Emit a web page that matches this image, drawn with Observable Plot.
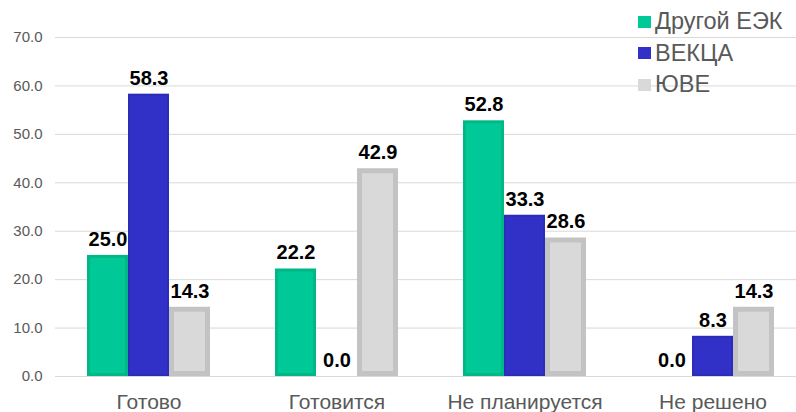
<!DOCTYPE html>
<html>
<head>
<meta charset="utf-8">
<script src="https://cdn.jsdelivr.net/npm/d3@7"></script>
<script src="https://cdn.jsdelivr.net/npm/@observablehq/plot@0.6"></script>
<style>
  html, body { margin: 0; padding: 0; background: #fff; overflow: hidden; }
  #wrap { position: relative; width: 796px; height: 412px; overflow: hidden; font-family: "Liberation Sans", Arial, sans-serif; }
  #wrap > svg { position: absolute; left: 0; top: 0; max-width: none !important; }
  #legend { position: absolute; left: 638px; top: 6px; }
  .row { height: 31.5px; display: flex; align-items: center; font-size: 23.5px; color: #595959; }
  .sw { width: 13px; height: 12px; margin-right: 4px; flex: none; }
</style>
</head>
<body>
<div id="wrap"></div>
<script>
const categories = ["Готово", "Готовится", "Не планируется", "Не решено"];
const series = ["Другой ЕЭК", "ВЕКЦА", "ЮВЕ"];
const valuesOtherEEK = [25.0, 22.2, 52.8, 0.0];
const valuesVEKCA = [58.3, 0.0, 33.3, 8.3];
const valuesYUVE = [14.3, 42.9, 28.6, 14.3];
const fills = ["#00C896", "#3131C8", "#D9D9D9"];
const strokes = ["#00B886", "#2C2CB8", "#C3C3C3"];
const strokeWidths = [3, 2, 5];
const yTicks = [0, 10, 20, 30, 40, 50, 60, 70];

const seriesValues = [valuesOtherEEK, valuesVEKCA, valuesYUVE];
const data = [];
categories.forEach((c, i) => series.forEach((s, j) => data.push({cat: c, series: s, value: seriesValues[j][i]})));

const common = {
  width: 807,
  height: 412,
  marginLeft: 55,
  marginRight: 0,
  marginTop: 37,
  marginBottom: 36,
  style: {fontFamily: "Liberation Sans, Arial, sans-serif", background: "transparent", overflow: "visible", maxWidth: "none"}
};

// Background: continuous gridlines and y axis
const bg = Plot.plot({
  ...common,
  y: {domain: [0, 70], axis: null},
  marks: [
    Plot.gridY(yTicks, {stroke: "#D9D9D9", strokeOpacity: 1, strokeWidth: 1}),
    Plot.axisY(yTicks, {tickSize: 0, tickPadding: 13, tickFormat: d => d.toFixed(1), fontSize: 15, fill: "#595959", label: null})
  ]
});

const barMarks = series.map((s, j) => Plot.barY(
  data.filter(d => d.series === s && d.value > 0),
  {fx: "cat", x: "series", y: "value", fill: fills[j], stroke: strokes[j], strokeWidth: strokeWidths[j], inset: strokeWidths[j] / 2}
));

const fg = Plot.plot({
  ...common,
  fx: {domain: categories, paddingInner: 0.335, paddingOuter: 0.1675, axis: null, label: null},
  x: {domain: series, padding: 0, axis: null},
  y: {domain: [0, 70], axis: null},
  marks: [
    ...barMarks,
    Plot.text(data, {fx: "cat", x: "series", y: "value", text: d => d.value.toFixed(1), dy: -16, fontSize: 20, fontWeight: "bold", fill: "#000"}),
    Plot.axisFx({anchor: "bottom", tickSize: 0, tickPadding: 18, fontSize: 21, fill: "#595959", label: null})
  ]
});

const wrap = document.getElementById("wrap");
wrap.append(bg, fg);

const legend = document.createElement("div");
legend.id = "legend";
series.forEach((s, j) => {
  const row = document.createElement("div");
  row.className = "row";
  const sw = document.createElement("span");
  sw.className = "sw";
  sw.style.background = fills[j];
  const t = document.createElement("span");
  t.textContent = s;
  row.append(sw, t);
  legend.append(row);
});
wrap.append(legend);
</script>
</body>
</html>
